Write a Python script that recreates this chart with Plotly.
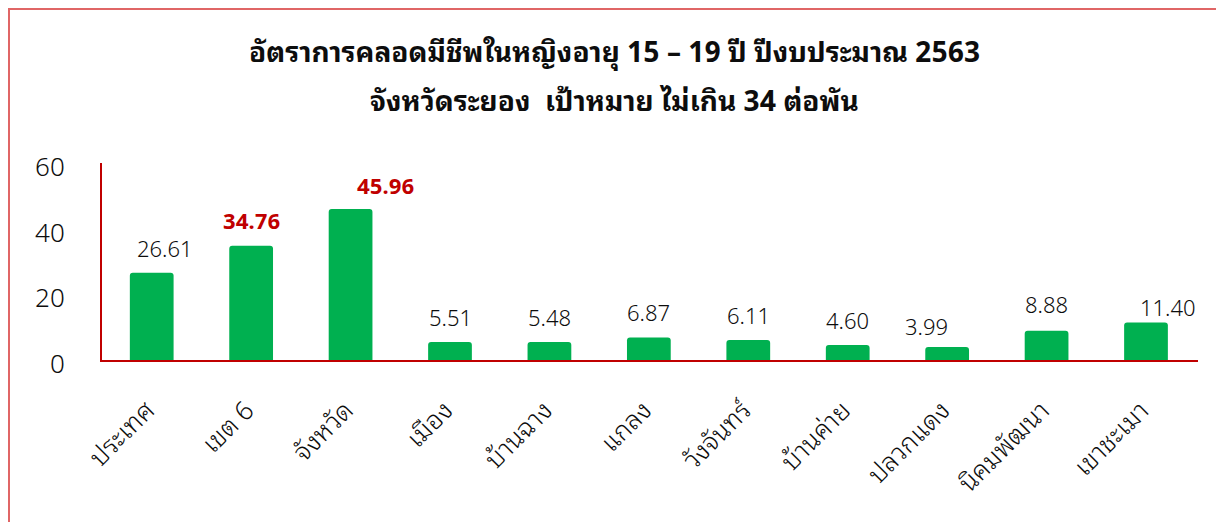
import plotly.graph_objects as go

categories = ["ประเทศ", "เขต 6", "จังหวัด", "เมือง", "บ้านฉาง", "แกลง",
              "วังจันทร์", "บ้านค่าย", "ปลวกแดง", "นิคมพัฒนา", "เขาชะเมา"]
values = [26.61, 34.76, 45.96, 5.51, 5.48, 6.87, 6.11, 4.60, 3.99, 8.88, 11.40]
highlight = [False, True, True, False, False, False, False, False, False, False, False]
title_lines = ["อัตราการคลอดมีชีพในหญิงอายุ 15 – 19 ปี ปีงบประมาณ 2563",
               "จังหวัดระยอง  เป้าหมาย ไม่เกิน 34 ต่อพัน"]
y_ticks = [0, 20, 40, 60]

# label nudges (pixels) to mimic the original layout
label_dx = [13, 0, 35, 0, 0, 0, 0, 0, -21, 0, 22]
label_dy = [26, 27, 25, 26, 26, 26, 26, 26, 22, 28, 17]

FONT = ("Noto Sans Thai Looped, Loma, Tahoma, Leelawadee UI, Waree, Garuda, "
        "Noto Sans Thai, Noto Sans, DejaVu Sans, sans-serif")
RED = "#C00000"
GREEN = "#00B050"
INK = "#0d0d0d"

# page has an 8px body margin; figure drawn at 1216x514
OFF = 8
L, T, ZERO, RIGHT = 102 - OFF, 163 - OFF, 360 - OFF, 1198 - OFF
FW, FH = 1216, 514
W = float(RIGHT - L)
H = float(ZERO - T)

fig = go.Figure()
fig.add_trace(go.Bar(
    x=categories, y=values,
    marker=dict(color=GREEN, line=dict(width=0), cornerradius=3),
    width=0.44, hoverinfo="x+y",
))

annotations = []
for c, v, h, dx, dy in zip(categories, values, highlight, label_dx, label_dy):
    annotations.append(dict(
        x=c, y=v, xref="x", yref="y", text=f"{v:.2f}",
        showarrow=False, yanchor="middle", xanchor="center",
        xshift=dx, yshift=dy,
        font=dict(family=FONT, size=22, color=RED if h else INK,
                  weight="bold" if h else 300),
    ))

title_cx = (614 - OFF - L) / W
for txt, ypx in zip(title_lines, [49, 99]):
    annotations.append(dict(
        x=title_cx, y=(ZERO - (ypx - OFF)) / H, xref="paper", yref="paper",
        text=f"<b>{txt}</b>",
        showarrow=False, xanchor="center", yanchor="middle",
        font=dict(family=FONT, size=28, color=INK),
    ))

shapes = [dict(type="rect", xref="paper", yref="paper",
               x0=(1 - L) / W, x1=(1240 - L) / W,
               y0=(ZERO - 540) / H, y1=(ZERO - 1) / H,
               line=dict(color="#E06666", width=2), fillcolor="rgba(0,0,0,0)", layer="below")]

fig.update_layout(
    width=FW, height=FH,
    margin=dict(l=L, r=FW - RIGHT, t=T, b=FH - ZERO),
    paper_bgcolor="white", plot_bgcolor="white",
    showlegend=False,
    annotations=annotations,
    shapes=shapes,
    font=dict(family=FONT, color=INK),
)
fig.update_xaxes(
    showline=True, linecolor=RED, linewidth=2, showgrid=False, ticks="",
    tickmode="array", tickvals=categories,
    ticktext=[c + "\u00a0" for c in categories],
    tickangle=-45, tickfont=dict(family=FONT, size=26, color=INK, weight=300),
    ticklabelstandoff=18, zeroline=False,
)
fig.update_yaxes(
    range=[0, 60], tickvals=y_ticks, showline=True, linecolor=RED, linewidth=2,
    showgrid=False, ticks="", zeroline=False, ticklabelshift=4,
    tickfont=dict(family=FONT, size=26, color=INK, weight=300),
    ticklabelstandoff=30,
)

fig.write_html("out.html")
